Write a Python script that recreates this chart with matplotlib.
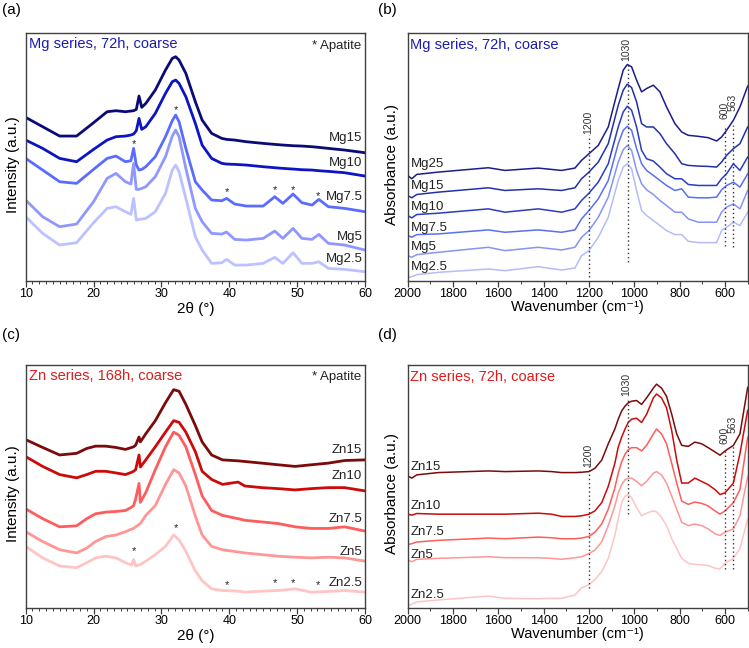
import numpy as np
import matplotlib.pyplot as plt
from matplotlib.ticker import MultipleLocator

plt.rcParams['font.family'] = ['Liberation Sans', 'DejaVu Sans']

# ---------------- (a) XRD, Mg series, 72h ----------------
tt_a = [10, 12.5, 15, 17.5, 20, 22, 23.3, 24.7, 25.5, 25.9, 26.3, 26.7, 27.1, 27.7, 29.1,
        30.6, 31.6, 32.1, 32.6, 33.6, 35, 36, 37.4, 38.9, 39.6, 40.8, 42.5, 45, 46.7, 47.9,
        49.4, 50.7, 52.2, 53.2, 54.6, 57, 60]
mg15_a = [490, 462, 434, 434, 474, 507, 510, 507, 509, 510, 514, 554, 520, 532, 572, 632, 667, 672,
          662, 622, 537, 482, 442, 427, 424, 422, 417, 412, 409, 407, 405, 404, 402, 400, 397, 392, 384]
mg10_a = [422, 397, 367, 357, 394, 422, 432, 434, 437, 440, 450, 487, 454, 462, 502, 562, 597, 602,
          592, 552, 472, 407, 367, 352, 350, 349, 347, 342, 339, 337, 335, 333, 332, 330, 328, 324, 314]
mg75_a = [367, 332, 297, 292, 334, 367, 374, 357, 360, 397, 347, 332, 334, 342, 372, 432, 480, 497,
          477, 397, 297, 272, 242, 240, 247, 230, 224, 224, 252, 232, 260, 234, 227, 244, 222, 217, 207]
mg5_a = [242, 192, 162, 170, 237, 307, 322, 297, 290, 352, 274, 274, 277, 282, 312, 372, 434, 452,
         432, 337, 217, 177, 142, 140, 146, 124, 122, 127, 149, 127, 157, 127, 124, 139, 112, 107, 92]
mg25_a = [192, 142, 107, 114, 174, 217, 222, 207, 199, 247, 182, 184, 185, 187, 207, 262, 332, 347,
          327, 247, 132, 92, 52, 54, 64, 47, 47, 52, 70, 52, 84, 52, 52, 57, 37, 34, 27]
names_a = ['Mg15', 'Mg10', 'Mg7.5', 'Mg5', 'Mg2.5']
label_y_a = [427, 352, 252, 130, 64]
star_x_a = [25.9, 32.1, 39.6, 46.7, 49.4, 53.1]
star_y_a = [410, 512, 265, 272, 272, 255]

# ---------------- (b) FTIR, Mg series, 72h ----------------
wn_b = [2000, 1982, 1960, 1865, 1644, 1571, 1424, 1321, 1262, 1233, 1200, 1159, 1115, 1071, 1049,
        1031, 1012, 990, 968, 946, 916, 887, 858, 821, 791, 762, 718, 674, 637, 615, 593, 563, 534, 500]
mg25_b = [315, 305, 318, 325, 338, 330, 337, 330, 337, 360, 380, 405, 460, 575, 630, 647, 640, 600,
          565, 575, 585, 565, 520, 470, 445, 435, 432, 428, 418, 430, 450, 480, 520, 582]
mg15_b = [255, 248, 258, 265, 278, 270, 275, 270, 278, 305, 325, 355, 410, 525, 570, 588, 578, 535,
          470, 460, 460, 440, 410, 380, 350, 345, 343, 342, 340, 355, 375, 395, 410, 460]
mg10_b = [195, 188, 198, 202, 215, 205, 215, 205, 215, 240, 262, 295, 350, 460, 505, 522, 510, 460,
          390, 365, 358, 340, 320, 305, 305, 288, 285, 285, 285, 305, 320, 350, 330, 370]
mg75_b = [135, 130, 138, 140, 152, 145, 152, 145, 152, 185, 210, 245, 300, 410, 450, 462, 450, 395,
          350, 330, 315, 300, 285, 270, 275, 250, 248, 248, 250, 272, 285, 295, 280, 320]
mg5_b = [75, 70, 78, 85, 100, 90, 100, 92, 100, 130, 150, 190, 250, 355, 392, 405, 390, 330,
         290, 272, 258, 240, 225, 205, 205, 185, 175, 175, 175, 205, 220, 230, 215, 270]
mg25s_b = [10, 12, 18, 25, 35, 30, 42, 32, 38, 75, 90, 130, 190, 300, 340, 350, 335, 270,
           210, 195, 180, 165, 150, 138, 138, 118, 114, 114, 114, 150, 160, 175, 165, 205]
names_b = ['Mg25', 'Mg15', 'Mg10', 'Mg7.5', 'Mg5', 'Mg2.5']
label_y_b = [350, 282, 222, 158, 100, 42]
peak_x_b = [1200, 1030, 600, 563]
peak_lo_b = [10, 55, 105, 100]
peak_hi_b = [435, 650, 460, 465]
peak_ty_b = [475, 693, 510, 535]

# ---------------- (c) XRD, Zn series, 168h ----------------
tt_c = [10, 12.5, 15, 17.5, 19, 20.3, 21.8, 23.3, 24.7, 25.6, 25.9, 26.2, 26.7, 26.9, 27.7, 29.1,
        30.6, 31.8, 32.6, 33.6, 35, 36, 37.4, 39, 41.3, 42.3, 44.8, 47.2, 49.7, 52.1, 54.6, 57, 60]
zn15_c = [514, 490, 467, 472, 487, 494, 494, 490, 484, 490, 492, 497, 522, 507, 532, 572, 627, 667,
          662, 622, 557, 507, 467, 452, 449, 447, 442, 437, 432, 437, 442, 450, 452]
zn10_c = [462, 432, 407, 397, 407, 417, 417, 412, 407, 414, 417, 422, 467, 430, 452, 492, 537, 572,
          567, 537, 477, 417, 392, 377, 384, 372, 367, 364, 360, 364, 367, 367, 357]
zn75_c = [302, 272, 247, 250, 272, 287, 292, 294, 297, 307, 312, 332, 380, 322, 352, 422, 492, 537,
          527, 492, 407, 342, 297, 282, 272, 267, 262, 257, 247, 242, 242, 247, 234]
zn5_c = [232, 202, 177, 167, 182, 202, 217, 222, 232, 240, 242, 247, 254, 257, 282, 312, 377, 422,
         412, 372, 280, 222, 187, 177, 170, 167, 162, 157, 154, 152, 154, 152, 142]
zn25_c = [187, 152, 127, 122, 137, 152, 157, 152, 137, 130, 147, 127, 130, 132, 142, 162, 187, 222,
          207, 172, 112, 82, 57, 52, 50, 47, 50, 52, 57, 47, 49, 52, 47]
names_c = ['Zn15', 'Zn10', 'Zn7.5', 'Zn5', 'Zn2.5']
label_y_c = [482, 402, 272, 170, 74]
star_x_c = [25.9, 32.1, 39.6, 46.7, 49.4, 53.1]
star_y_c = [174, 242, 69, 75, 75, 69]

# ---------------- (d) FTIR, Zn series, 72h ----------------
wn_d = [2000, 1982, 1960, 1865, 1644, 1571, 1424, 1365, 1321, 1262, 1233, 1200, 1174, 1144, 1115,
        1086, 1071, 1056, 1041, 1027, 1012, 990, 968, 946, 916, 902, 880, 858, 835, 813, 791, 762,
        733, 703, 674, 644, 622, 600, 563, 534, 500]
zn15_d = [402, 395, 405, 412, 417, 415, 417, 415, 412, 412, 413, 415, 425, 450, 500, 545, 575, 600,
          615, 625, 630, 632, 620, 640, 670, 682, 670, 645, 590, 530, 495, 492, 505, 500, 488, 475,
          465, 478, 495, 530, 672]
zn10_d = [285, 282, 287, 285, 285, 285, 288, 285, 278, 278, 280, 285, 295, 320, 370, 440, 490, 520,
          545, 565, 575, 578, 565, 590, 640, 652, 640, 610, 540, 450, 380, 380, 395, 385, 375, 360,
          345, 350, 380, 470, 602]
zn75_d = [192, 195, 200, 205, 212, 210, 215, 213, 210, 210, 212, 217, 230, 255, 300, 365, 410, 445,
          468, 482, 488, 488, 478, 495, 530, 545, 530, 500, 440, 380, 325, 315, 322, 318, 310, 295,
          285, 295, 320, 360, 520]
zn5_d = [145, 140, 147, 150, 155, 152, 152, 150, 147, 152, 155, 165, 175, 200, 250, 310, 350, 375,
         390, 395, 395, 385, 372, 385, 410, 415, 405, 380, 340, 300, 260, 250, 255, 250, 240, 225,
         220, 230, 240, 280, 400]
zn25_d = [5, 10, 17, 23, 35, 28, 27, 28, 28, 38, 60, 70, 85, 110, 150, 220, 270, 320, 340, 345, 335,
          305, 280, 288, 295, 292, 275, 250, 210, 180, 150, 135, 132, 130, 128, 120, 118, 135, 150,
          180, 270]
names_d = ['Zn15', 'Zn10', 'Zn7.5', 'Zn5', 'Zn2.5']
label_y_d = [430, 310, 230, 160, 38]
peak_x_d = [1200, 1030, 600, 563]
peak_lo_d = [60, 285, 118, 118]
peak_hi_d = [435, 640, 485, 495]
peak_ty_d = [465, 680, 525, 560]

blues_xrd = ['#0b0b78', '#0d14c4', '#5a6cff', '#8e98ff', '#bcc2ff']
blues_ir = ['#1c1c8e', '#2231a8', '#2a3cc4', '#5b70f0', '#8594f6', '#b4bdfa']
reds = ['#7c0a0a', '#cc0a0a', '#ff5c5c', '#ff9696', '#ffc4c4']
mg_title = '#1c1cb0'
zn_title = '#e01b1b'
frame = '#404040'


def style_axes(ax):
    for s in ax.spines.values():
        s.set_color(frame)
        s.set_linewidth(1.0)
    ax.set_yticks([])
    ax.tick_params(axis='x', which='major', direction='out', length=4, width=0.9,
                   color=frame, labelsize=9, pad=1.5)
    ax.tick_params(axis='x', which='minor', direction='out', length=2.5, width=0.7, color=frame)


def xrd_panel(ax, tt, series, colors, names, label_y, title, tcolor, sx, sy):
    for y, c in zip(series, colors):
        ax.plot(tt, y, color=c, lw=2.0, solid_joinstyle='round')
    for n, ly in zip(names, label_y):
        ax.text(59.6, ly, n, ha='right', va='center', fontsize=9.5, color='#222222')
    for x, y in zip(sx, sy):
        ax.text(x, y, '*', ha='center', va='center', fontsize=8, color='#222222')
    ax.text(10.5, 710, title, ha='left', va='center', fontsize=10.5, color=tcolor)
    ax.text(59.4, 705, '* Apatite', ha='right', va='center', fontsize=9.5, color='#222222')
    ax.set_xlim(10, 60)
    ax.set_ylim(0, 744)
    ax.xaxis.set_major_locator(MultipleLocator(10))
    ax.xaxis.set_minor_locator(MultipleLocator(1))
    ax.set_xlabel('2θ (°)', fontsize=11, labelpad=1)
    ax.set_ylabel('Intensity (a.u.)', fontsize=11)
    ax.yaxis.set_label_coords(-0.018, 0.47)
    style_axes(ax)


def ir_panel(ax, wn, series, colors, names, label_y, title, tcolor, px, plo, phi, pty):
    for y, c in zip(series, colors):
        ax.plot(wn, y, color=c, lw=1.1, solid_joinstyle='round')
    for n, ly in zip(names, label_y):
        ax.text(1988, ly, n, ha='left', va='center', fontsize=9.5, color='#222222')
    for x, lo, hi, ty in zip(px, plo, phi, pty):
        ax.plot([x, x], [lo, hi], color='#333333', lw=1.0, ls=(0, (1, 2)))
        ax.text(x + 4, ty, str(x), rotation=90, ha='center', va='center',
                fontsize=7.5, color='#333333')
    ax.text(1988, 705, title, ha='left', va='center', fontsize=10.5, color=tcolor)
    ax.set_xlim(2000, 500)
    ax.set_ylim(0, 742)
    ax.xaxis.set_major_locator(MultipleLocator(200))
    ax.xaxis.set_minor_locator(MultipleLocator(100))
    ax.set_xlabel('Wavenumber (cm⁻¹)', fontsize=10.5, labelpad=0)
    ax.set_ylabel('Absorbance (a.u.)', fontsize=11)
    ax.yaxis.set_label_coords(-0.026, 0.47)
    style_axes(ax)


fig = plt.figure(figsize=(7.49, 6.48), dpi=100)
ax_a = fig.add_axes([0.0343, 0.5668, 0.4530, 0.3827])
ax_b = fig.add_axes([0.5443, 0.5668, 0.4539, 0.3827])
ax_c = fig.add_axes([0.0343, 0.0625, 0.4530, 0.3750])
ax_d = fig.add_axes([0.5443, 0.0625, 0.4539, 0.3750])

xrd_panel(ax_a, tt_a, [mg15_a, mg10_a, mg75_a, mg5_a, mg25_a], blues_xrd, names_a, label_y_a,
          'Mg series, 72h, coarse', mg_title, star_x_a, star_y_a)
ir_panel(ax_b, wn_b, [mg25_b, mg15_b, mg10_b, mg75_b, mg5_b, mg25s_b], blues_ir, names_b, label_y_b,
         'Mg series, 72h, coarse', mg_title, peak_x_b, peak_lo_b, peak_hi_b, peak_ty_b)
xrd_panel(ax_c, tt_c, [zn15_c, zn10_c, zn75_c, zn5_c, zn25_c], reds, names_c, label_y_c,
          'Zn series, 168h, coarse', zn_title, star_x_c, star_y_c)
ir_panel(ax_d, wn_d, [zn15_d, zn10_d, zn75_d, zn5_d, zn25_d], reds, names_d, label_y_d,
         'Zn series, 72h, coarse', zn_title, peak_x_d, peak_lo_d, peak_hi_d, peak_ty_d)

for lab, x, y in [('(a)', 2, 10), ('(b)', 378, 10), ('(c)', 2, 335), ('(d)', 378, 335)]:
    fig.text(x / 749, 1 - y / 648, lab, ha='left', va='center', fontsize=11)

fig.savefig('out.png', dpi=100)
plt.close(fig)
